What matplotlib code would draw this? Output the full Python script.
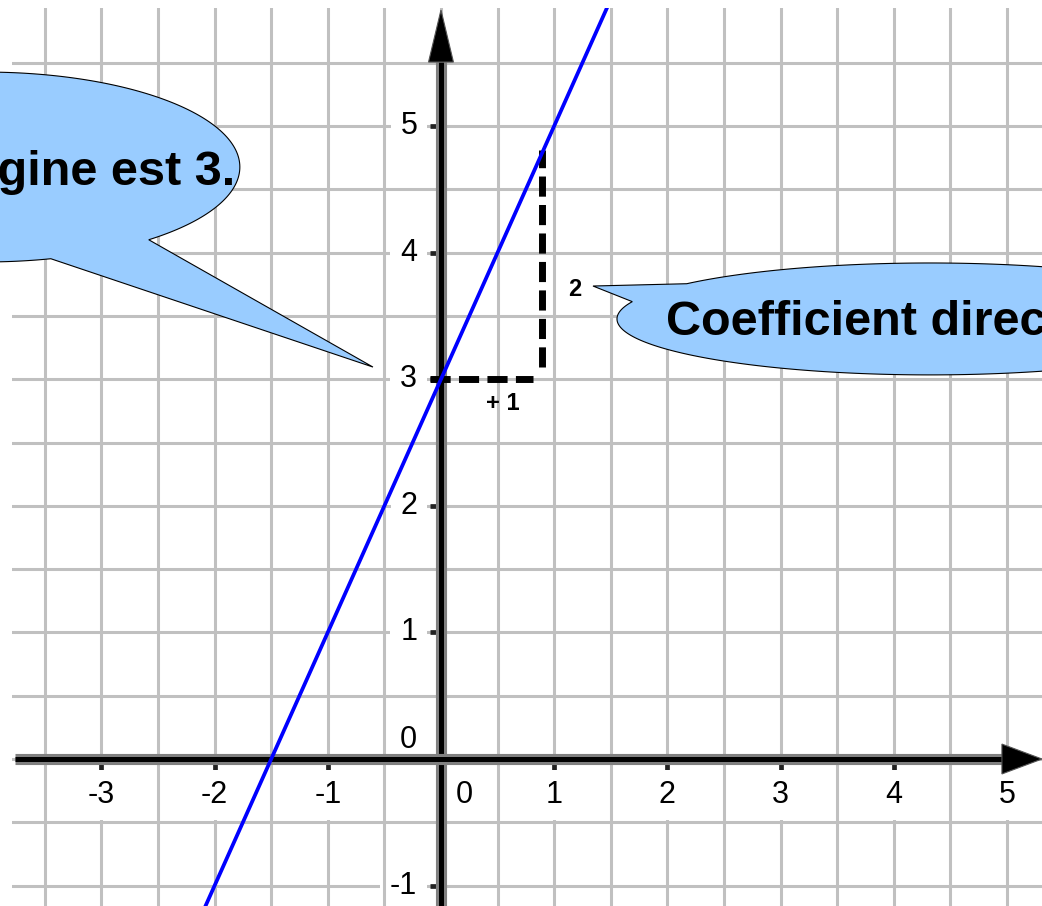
import numpy as np
import matplotlib
matplotlib.use("Agg")
import matplotlib.pyplot as plt
import matplotlib.patheffects as pe
from matplotlib.patches import Polygon

plt.rcParams["font.family"] = ["Liberation Sans", "DejaVu Sans"]

# droite y = 2x + 3
line_x = [-2.4, 1.6]
line_y = [-1.8, 6.2]

# petit triangle de pente (+1 / 2)
run_x = [-0.10, 0.81]
run_y = [3.0, 3.0]
rise_x = [0.89, 0.89]
rise_y = [3.10, 4.81]

x_ticks = [-3, -2, -1, 1, 2, 3, 4, 5]
x_tick_labels = ["-3", "-2", "-1", "1", "2", "3", "4", "5"]
y_ticks = [-1, 1, 2, 3, 4, 5]
y_tick_labels = ["-1", "1", "2", "3", "4", "5"]
x_half_lines = [-3.5, -2.5, -1.5, -0.5, 0.5, 1.5, 2.5, 3.5, 4.5]
y_half_lines = [-0.5, 0.5, 1.5, 2.5, 3.5, 4.5, 5.5]

xlim = (-3.79, 5.31)
ylim = (-1.161, 5.932)

left_text = "L'ordonnée à l'origine est 3."
right_text = "Coefficient directeur : 2"

grid_color = "#c0c0c0"


def callout(ax, center, a, b, gap_from, gap_to, tip):
    # ellipse with a gap between gap_from and gap_to (degrees) where the tail goes
    t = np.radians(np.linspace(gap_to, gap_from + 360, 300))
    xs = np.append(center[0] + a * np.cos(t), tip[0])
    ys = np.append(center[1] + b * np.sin(t), tip[1])
    ax.add_patch(Polygon(np.column_stack([xs, ys]), closed=True, fc="#99ccff",
                         ec="black", lw=0.8, zorder=5, clip_on=False))


fig = plt.figure(figsize=(10.42, 9.06), dpi=100)
ax = fig.add_axes([12 / 1042, 0, 1030 / 1042, 898 / 906])
ax.set_xlim(*xlim)
ax.set_ylim(*ylim)

# integer grid lines sit under the label boxes, half-unit lines over them
ax.set_xticks(x_ticks + [0])
ax.set_yticks(y_ticks + [0])
ax.grid(which="major", color=grid_color, lw=2.2)
ax.set_axisbelow(True)
for xv in x_half_lines:
    ax.axvline(xv, color=grid_color, lw=2.2, zorder=0.7)
for yv in y_half_lines:
    ax.axhline(yv, color=grid_color, lw=2.2, zorder=0.7)
ax.tick_params(which="major", direction="out", length=8, width=3.4, color="#222222",
               labelbottom=False, labelleft=False)

# axes through the origin, with arrows
for side in ["top", "right"]:
    ax.spines[side].set_visible(False)
ax.spines["left"].set_position(("data", 0))
ax.spines["bottom"].set_position(("data", 0))
ax.spines["left"].set_bounds(ylim[0], 5.505)
ax.spines["bottom"].set_bounds(xlim[0] + 0.03, 4.956)
for side in ["left", "bottom"]:
    ax.spines[side].set_linewidth(3.6)
    ax.spines[side].set_color("black")
    ax.spines[side].set_capstyle("butt")
    ax.spines[side].set_path_effects([pe.Stroke(linewidth=8, foreground="#808080",
                                                capstyle="butt"), pe.Normal()])

ax.add_patch(Polygon([(-0.11, 5.505), (0.11, 5.505), (0, 5.916)], closed=True,
                     fc="black", ec="#555555", lw=0.8, zorder=3))
ax.add_patch(Polygon([(4.956, 0.118), (4.956, -0.118), (5.31, 0)], closed=True,
                     fc="black", ec="#555555", lw=0.8, zorder=3, clip_on=False))

label_box = dict(fc="white", ec="none", pad=7)
for xv, lab in zip(x_ticks, x_tick_labels):
    ax.text(xv, -0.284, lab, ha="center", va="center", fontsize=22,
            bbox=label_box, zorder=0.6)
for yv, lab in zip(y_ticks, y_tick_labels):
    ax.text(-0.21, yv, lab, ha="right", va="center", fontsize=22,
            bbox=label_box, zorder=0.6)
ax.text(-0.21, 0.15, "0", ha="right", va="center", fontsize=22, bbox=label_box, zorder=0.6)
ax.text(0.21, -0.284, "0", ha="center", va="center", fontsize=22, bbox=label_box, zorder=0.6)

# slope triangle
ax.plot(run_x, run_y, color="black", lw=5, linestyle=(0, (2.9, 1.2)), zorder=3.5)
ax.plot(rise_x, rise_y, color="black", lw=5, linestyle=(0, (2.9, 1.2)), zorder=3.5)
ax.text(0.548, 2.757, "+ 1", ha="center", va="baseline", fontsize=17,
        fontweight="bold", zorder=6)
ax.text(1.184, 3.657, "2", ha="center", va="baseline", fontsize=17,
        fontweight="bold", zorder=6)

ax.plot(line_x, line_y, color="#0000ff", lw=2.7, zorder=4)

# callouts
callout(ax, (-4.03, 4.676), 2.253, 0.750, -75, -50, (-0.601, 3.096))
ax.text(-1.82, 4.534, left_text, ha="right", va="baseline", fontsize=35,
        fontweight="bold", zorder=6)
callout(ax, (4.320, 3.476), 2.765, 0.442, 141, 162, (1.343, 3.736))
ax.text(1.985, 3.349, right_text, ha="left", va="baseline", fontsize=35,
        fontweight="bold", zorder=6)

fig.savefig("out.png", dpi=100)
